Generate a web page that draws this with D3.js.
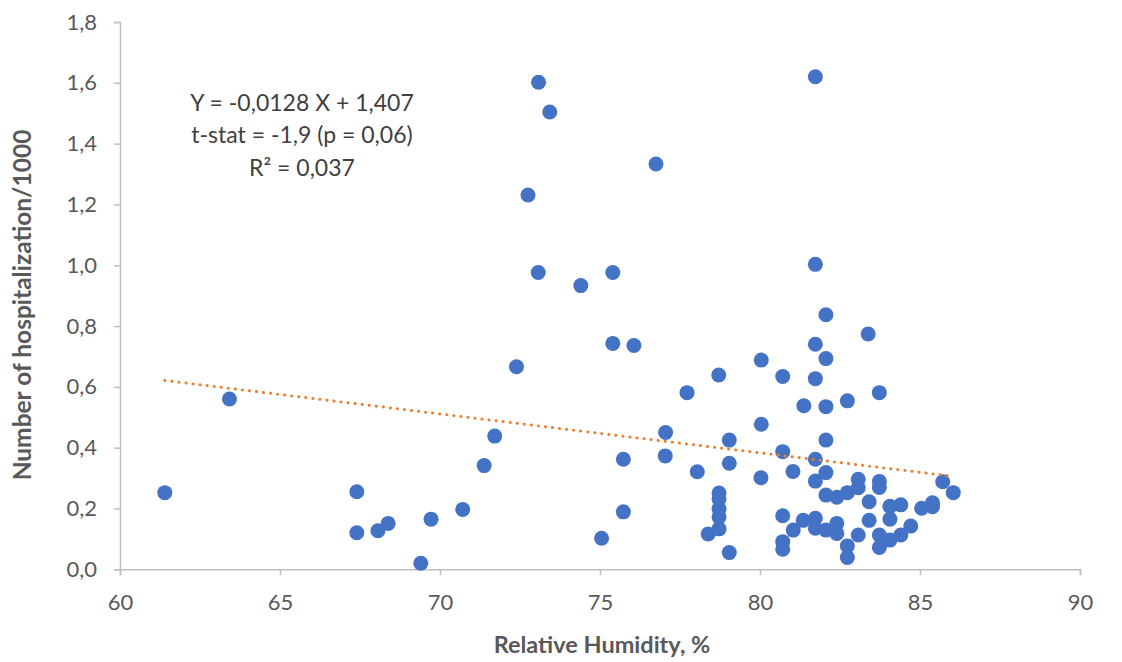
<!DOCTYPE html>
<html>
<head>
<meta charset="utf-8">
<script src="https://cdn.jsdelivr.net/npm/d3@7"></script>
<style>
  html, body { margin: 0; padding: 0; background: #fff; }
  svg { display: block; }
</style>
</head>
<body>
<svg id="chart" width="1122" height="662"></svg>
<script>
// ---- data ----
const humidity = [
  61.40, 63.42, 67.40, 67.40, 68.06, 68.38, 69.40, 69.72, 70.71, 71.38,
  71.71, 72.39, 72.75, 73.08, 73.43, 73.07, 74.40, 75.05, 75.40, 75.40,
  75.73, 75.73, 76.06, 76.75, 77.05, 77.04, 77.72, 78.04, 78.38, 78.71,
  78.72, 78.72, 78.72, 78.72, 78.72, 79.04, 79.04, 79.04, 80.04, 80.04,
  80.03, 80.71, 80.71, 80.71, 80.71, 80.71, 81.03, 81.04, 81.37, 81.35,
  81.73, 81.73, 81.73, 81.73, 81.73, 81.73, 81.73, 81.73, 82.06, 82.06,
  82.06, 82.06, 82.06, 82.06, 82.06, 82.40, 82.40, 82.40, 82.73, 82.73,
  82.73, 82.73, 83.07, 83.07, 83.07, 83.38, 83.41, 83.41, 83.73, 83.73,
  83.73, 83.73, 83.73, 84.06, 84.06, 84.06, 84.40, 84.40, 84.71, 85.05,
  85.39, 85.39, 85.71, 86.04
];
const hospitalization = [
  0.252, 0.560, 0.255, 0.120, 0.127, 0.151, 0.020, 0.165, 0.197, 0.341,
  0.438, 0.666, 1.231, 1.602, 1.504, 0.976, 0.933, 0.102, 0.976, 0.743,
  0.362, 0.189, 0.736, 1.333, 0.450, 0.373, 0.581, 0.321, 0.116, 0.639,
  0.251, 0.231, 0.199, 0.172, 0.133, 0.425, 0.349, 0.055, 0.688, 0.477,
  0.301, 0.634, 0.387, 0.176, 0.091, 0.066, 0.322, 0.129, 0.538, 0.161,
  1.620, 1.003, 0.740, 0.627, 0.362, 0.290, 0.168, 0.135, 0.837, 0.693,
  0.535, 0.425, 0.318, 0.244, 0.129, 0.237, 0.151, 0.118, 0.554, 0.252,
  0.077, 0.039, 0.296, 0.268, 0.113, 0.774, 0.222, 0.161, 0.581, 0.289,
  0.269, 0.113, 0.072, 0.207, 0.165, 0.096, 0.212, 0.113, 0.142, 0.201,
  0.219, 0.206, 0.288, 0.252
];
const trendSlope = -0.0128;
const trendIntercept = 1.407;
const xTicks = [60, 65, 70, 75, 80, 85, 90];
const yTicks = [0, 0.2, 0.4, 0.6, 0.8, 1.0, 1.2, 1.4, 1.6, 1.8];
const annotationLines = ["Y = -0,0128 X + 1,407", "t-stat = -1,9 (p = 0,06)", "R\u00B2 = 0,037"];
const xTitle = "Relative Humidity, %";
const yTitle = "Number of hospitalization/1000";

// ---- layout ----
const svg = d3.select("#chart");
const mLeft = 120, mRight = 1080, mTop = 22, mBottom = 569.3;
const axisColor = "#BFBFBF", textColor = "#595959";
const font = "Lato, 'Open Sans', sans-serif";

const x = d3.scaleLinear().domain([60, 90]).range([mLeft, mRight]);
const y = d3.scaleLinear().domain([0, 1.8]).range([mBottom, mTop]);

// x axis
const gx = svg.append("g").attr("transform", `translate(0,${mBottom})`)
  .call(d3.axisBottom(x).tickValues(xTicks).tickSize(6).tickPadding(19)
    .tickFormat(d3.format("d")));
gx.select(".domain").attr("stroke", axisColor).attr("stroke-width", 1.5);
gx.selectAll(".tick line").attr("stroke", axisColor).attr("stroke-width", 1.5);
gx.selectAll(".tick text").attr("fill", textColor).style("font-family", font).style("font-size", "22px");

// y axis
const commaFmt = d => d3.format(".1f")(d).replace(".", ",");
const gy = svg.append("g").attr("transform", `translate(${mLeft},0)`)
  .call(d3.axisLeft(y).tickValues(yTicks).tickSize(6).tickPadding(17).tickFormat(commaFmt));
gy.select(".domain").attr("stroke", axisColor).attr("stroke-width", 1.5);
gy.selectAll(".tick line").attr("stroke", axisColor).attr("stroke-width", 1.5);
gy.selectAll(".tick text").attr("fill", textColor).style("font-family", font).style("font-size", "22px");

// points
const pts = humidity.map((h, i) => ({h, v: hospitalization[i]}));
svg.append("g").selectAll("circle").data(pts).join("circle")
  .attr("cx", d => x(d.h)).attr("cy", d => y(d.v)).attr("r", 7.5)
  .attr("fill", "#4472C4");

// trendline
const xMin = d3.min(humidity), xMax = d3.max(humidity);
const trend = [xMin, xMax].map(h => ({h, v: trendSlope * h + trendIntercept}));
svg.append("path").datum(trend)
  .attr("d", d3.line().x(d => x(d.h)).y(d => y(d.v)))
  .attr("fill", "none").attr("stroke", "#ED7D31").attr("stroke-width", 3)
  .attr("stroke-linecap", "round").attr("stroke-dasharray", "0.1 7");

// annotation
const ann = svg.append("text").attr("text-anchor", "middle")
  .attr("fill", "#404040").style("font-family", font).style("font-size", "23px");
annotationLines.forEach((t, i) => {
  ann.append("tspan").attr("x", 302).attr("y", 111 + i * 32.3).text(t);
});

// axis titles
svg.append("text").attr("x", 602).attr("y", 653)
  .attr("text-anchor", "middle").attr("fill", textColor)
  .style("font-family", font).style("font-size", "23.5px").style("font-weight", "bold")
  .text(xTitle);
svg.append("text").attr("transform", `translate(31,305) rotate(-90)`)
  .attr("text-anchor", "middle").attr("fill", textColor)
  .style("font-family", font).style("font-size", "24.5px").style("font-weight", "bold")
  .text(yTitle);
</script>
</body>
</html>
